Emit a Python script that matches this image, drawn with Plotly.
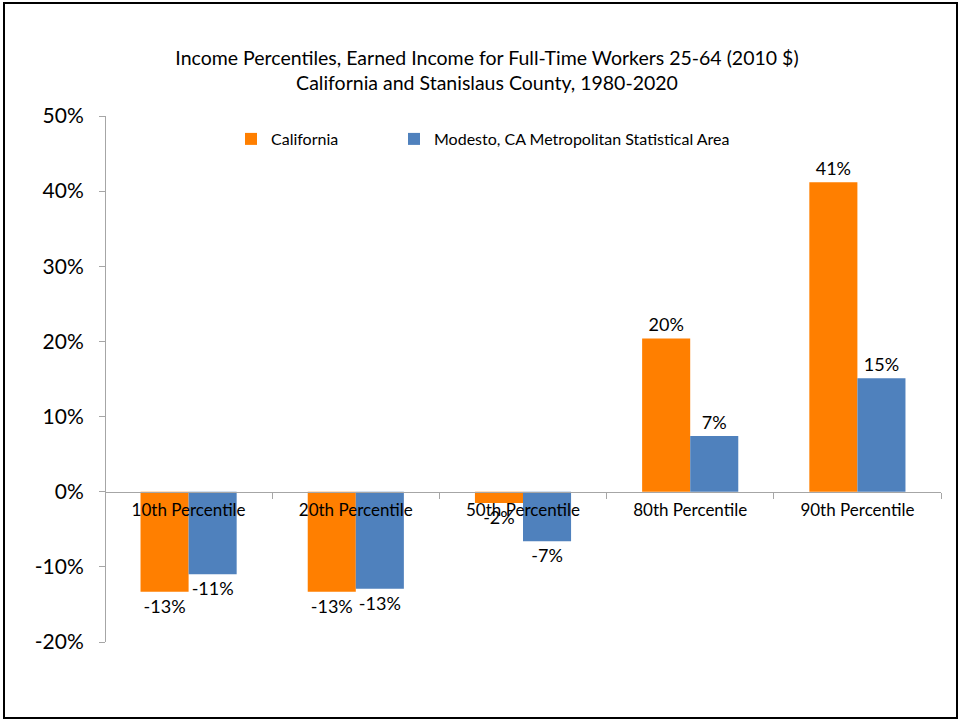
import plotly.graph_objects as go

percentiles = ['10th Percentile', '20th Percentile', '50th Percentile', '80th Percentile', '90th Percentile']
california = [-0.133, -0.133, -0.015, 0.204, 0.412]
modesto = [-0.110, -0.129, -0.066, 0.074, 0.151]
y_ticks = [-0.2, -0.1, 0, 0.1, 0.2, 0.3, 0.4, 0.5]


def pct(v):
    return f"{round(v * 100):.0f}%"


W, H = 960, 721
ML, MR, MT, MB = 105, 19, 116, 79
pw, ph = W - ML - MR, H - MT - MB

fnt = 'Lato, Open Sans, sans-serif'

fig = go.Figure()
fig.add_trace(go.Bar(
    x=percentiles, y=california, name='California',
    marker=dict(color='#FF7F00', line_width=0),
    text=[pct(v) for v in california], textposition='outside',
    textfont=dict(size=18, color='#000000'), cliponaxis=False,
    legend='legend', showlegend=True,
))
fig.add_trace(go.Bar(
    x=percentiles, y=modesto, name='Modesto, CA Metropolitan Statistical Area',
    marker=dict(color='#4F81BD', line_width=0),
    text=[pct(v) for v in modesto], textposition='outside',
    textfont=dict(size=18, color='#000000'), cliponaxis=False,
    legend='legend2', showlegend=True,
))

# frame around the whole picture
fig.add_shape(
    type='rect', xref='paper', yref='paper',
    x0=(4 - ML) / pw, x1=(957 - ML) / pw,
    y0=(3 - MB) / ph, y1=(H - 3 - MB) / ph,
    line=dict(color='#000000', width=2), fillcolor='rgba(0,0,0,0)',
)

leg = dict(orientation='h', xanchor='left', y=(H - MB - 139) / ph, yanchor='middle',
           font=dict(size=16), bgcolor='rgba(0,0,0,0)', visible=True)

fig.update_layout(
    width=W, height=H,
    margin=dict(l=ML, r=MR, t=MT, b=MB),
    paper_bgcolor='white', plot_bgcolor='white',
    font=dict(family=fnt, color='#000000'),
    barmode='group', bargap=0.425, bargroupgap=0,
    showlegend=True,
    title=dict(
        text='Income Percentiles, Earned Income for Full-Time Workers 25-64 (2010 $)<br>'
             'California and Stanislaus County, 1980-2020',
        x=487 / W, xanchor='center', y=1 - 65 / H, yanchor='middle',
        font=dict(size=19.5, family=fnt),
    ),
    legend=dict(leg, x=(231 - ML) / pw),
    legend2=dict(leg, x=(394 - ML) / pw),
    xaxis=dict(
        anchor='free', position=0.2 / 0.7,
        showline=True, linecolor='#A6A6A6', linewidth=1,
        ticks='outside', tickson='boundaries', ticklen=6, tickcolor='#A6A6A6',
        tickfont=dict(size=17), showgrid=False, ticklabelstandoff=3,
    ),
    yaxis=dict(
        range=[-0.2, 0.5], tickvals=y_ticks, ticktext=[pct(v) for v in y_ticks],
        showline=True, linecolor='#A6A6A6', linewidth=1,
        ticks='outside', ticklen=6, tickcolor='#A6A6A6',
        tickfont=dict(size=21), showgrid=False, zeroline=False,
        anchor='free', position=0, ticklabelstandoff=11,
    ),
)

fig.write_html('out.html', config={'displayModeBar': False},
               post_script="document.body.style.margin='0';")
